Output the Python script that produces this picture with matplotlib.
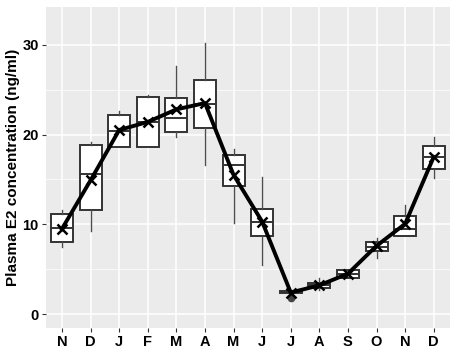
import matplotlib.pyplot as plt
import numpy as np

plt.rcParams['font.family'] = ['Liberation Sans', 'DejaVu Sans']

# months (Nov -> Dec of the following year)
months = ["N", "D", "J", "F", "M", "A", "M", "J", "J", "A", "S", "O", "N", "D"]

# box statistics (ng/ml)
wlo = [7.5, 9.3, 18.6, 18.6, 19.7, 16.6, 10.1, 5.5, 2.2, 2.7, 4.05, 6.2, 8.7, 15.1]
q1 = [8.0, 11.6, 18.6, 18.6, 20.3, 20.7, 14.3, 8.7, 2.3, 2.9, 4.05, 7.0, 8.7, 16.2]
med = [9.6, 15.6, 20.4, 21.4, 21.8, 23.4, 16.6, 10.3, 2.45, 3.2, 4.5, 7.5, 9.5, 17.5]
q3 = [11.1, 18.8, 22.2, 24.2, 24.1, 26.1, 17.7, 11.7, 2.6, 3.45, 4.9, 8.05, 10.9, 18.7]
whi = [11.6, 19.2, 22.6, 24.4, 27.6, 30.2, 18.4, 15.3, 2.7, 4.0, 4.9, 8.5, 12.2, 19.7]
means = [9.5, 14.9, 20.5, 21.4, 22.8, 23.5, 15.5, 10.3, 2.4, 3.2, 4.5, 7.6, 10.05, 17.5]
outliers = {8: [1.8]}

fig = plt.figure(figsize=(4.5, 3.48), dpi=100)
ax = fig.add_axes([45.7 / 450, 1 - 328 / 348, 1 - 45.7 / 450, (328 - 7) / 348])
ax.set_facecolor("#EBEBEB")

pos = np.arange(1, len(months) + 1)
stats = []
for i in range(len(months)):
    stats.append({"whislo": wlo[i], "q1": q1[i], "med": med[i], "q3": q3[i],
                  "whishi": whi[i], "fliers": outliers.get(i, [])})

ax.bxp(stats, positions=pos, widths=0.77, patch_artist=True, showcaps=False,
       boxprops=dict(facecolor="white", edgecolor="#333333", linewidth=1.4),
       medianprops=dict(color="#333333", linewidth=1.4),
       whiskerprops=dict(color="#4d4d4d", linewidth=1.0),
       flierprops=dict(marker="o", markerfacecolor="#444444", markeredgecolor="#444444",
                       markersize=4.5), zorder=3)

ax.plot(pos, means, color="black", linewidth=2.8, marker="x", markersize=6.5,
        markeredgewidth=1.8, zorder=5)

ax.set_xlim(1 - 0.57, len(months) + 0.57)
ax.set_ylim(-1.55, 34.2)
ax.set_xticks(pos)
ax.set_xticklabels(months, fontweight="bold", fontsize=10.5)
ax.set_yticks([0, 10, 20, 30])
ax.set_yticklabels(["0", "10", "20", "30"], fontweight="bold", fontsize=10.5)
ax.set_yticks([5, 15, 25], minor=True)
ax.grid(True, which="major", color="white", linewidth=1.1)
ax.grid(True, which="minor", axis="y", color="white", linewidth=0.5)
ax.set_axisbelow(True)
ax.tick_params(axis="both", which="major", length=3, width=0.8, color="#333333",
               labelcolor="black", pad=2)
ax.tick_params(axis="y", which="minor", length=0)
for s in ax.spines.values():
    s.set_visible(False)

ax.set_ylabel("Plasma E2 concentration (ng/ml)", fontweight="bold", fontsize=11, labelpad=2)

fig.savefig("out.png", dpi=100)
